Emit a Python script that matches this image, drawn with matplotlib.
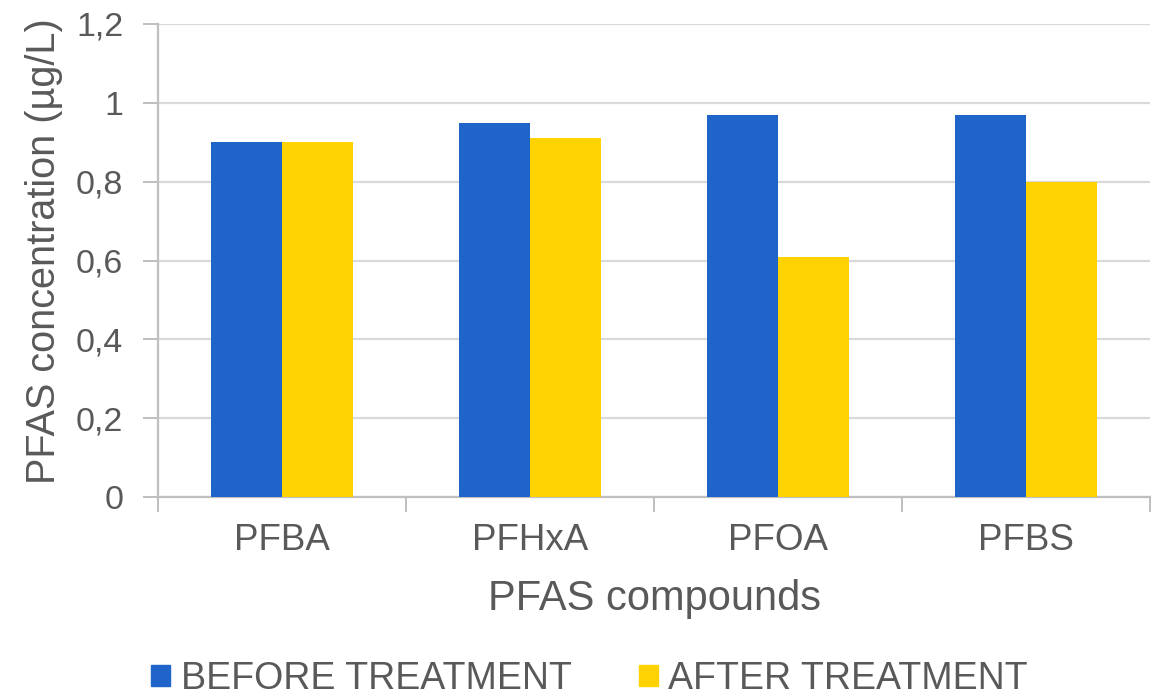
import matplotlib
matplotlib.use("Agg")
import matplotlib.pyplot as plt
import numpy as np
from matplotlib.patches import Patch

compounds = ["PFBA", "PFHxA", "PFOA", "PFBS"]
before = [0.90, 0.95, 0.97, 0.97]
after = [0.90, 0.91, 0.61, 0.80]
series_names = ["BEFORE TREATMENT", "AFTER TREATMENT"]
y_ticks = [0, 0.2, 0.4, 0.6, 0.8, 1.0, 1.2]
y_tick_labels = ["0", "0,2", "0,4", "0,6", "0,8", "1", "1,2"]

BLUE = "#1F64C8"
YELLOW = "#FFD200"
TEXT = "#595959"
AXIS = "#BFBFBF"
GRID = "#D9D9D9"

plt.rcParams["font.family"] = ["Liberation Sans", "DejaVu Sans"]

fig = plt.figure(figsize=(11.56, 6.96), dpi=100)
ax = fig.add_axes([158 / 1156, 1 - 497 / 696, (1150 - 158) / 1156, (497 - 24) / 696])

x = np.arange(len(compounds))
w = 0.286
ax.bar(x - w / 2, before, w, color=BLUE, zorder=3)
ax.bar(x + w / 2, after, w, color=YELLOW, zorder=3)

ax.set_xlim(-0.5, len(compounds) - 0.5)
ax.set_ylim(0, 1.2)
ax.set_yticks(y_ticks)
ax.set_yticklabels(y_tick_labels)
ax.yaxis.grid(True, color=GRID, linewidth=1.6, zorder=0)

# category boundaries carry the tick marks, centres carry the labels
ax.set_xticks(np.arange(len(compounds) + 1) - 0.5)
ax.set_xticklabels([])
ax.set_xticks(x, minor=True)
ax.set_xticklabels(compounds, minor=True)
ax.tick_params(axis="x", which="major", length=11, width=1.4, color=AXIS)
ax.tick_params(axis="x", which="minor", length=0, pad=19, labelsize=26.5, labelcolor=TEXT)
ax.tick_params(axis="y", length=11, width=1.4, color=AXIS, pad=14, labelsize=24.5, labelcolor=TEXT)

for side in ["top", "right"]:
    ax.spines[side].set_visible(False)
for side in ["left", "bottom"]:
    ax.spines[side].set_color(AXIS)
    ax.spines[side].set_linewidth(1.6)

ax.set_xlabel("PFAS compounds", fontsize=30, color=TEXT, labelpad=15)
ax.set_ylabel("PFAS concentration (µg/L)", fontsize=28.5, color=TEXT)
ax.yaxis.set_label_coords(-0.096, 0.52)

handles = [Patch(color=BLUE), Patch(color=YELLOW)]
fig.legend(handles, series_names, loc="lower center", bbox_to_anchor=(0.51, -0.05),
           ncol=2, frameon=False, labelcolor=TEXT,
           handlelength=0.5, handleheight=0.5, handletextpad=0.28, columnspacing=1.8,
           prop={"family": ["Liberation Sans", "DejaVu Sans"], "size": 27})

fig.savefig("out.png", dpi=100)
